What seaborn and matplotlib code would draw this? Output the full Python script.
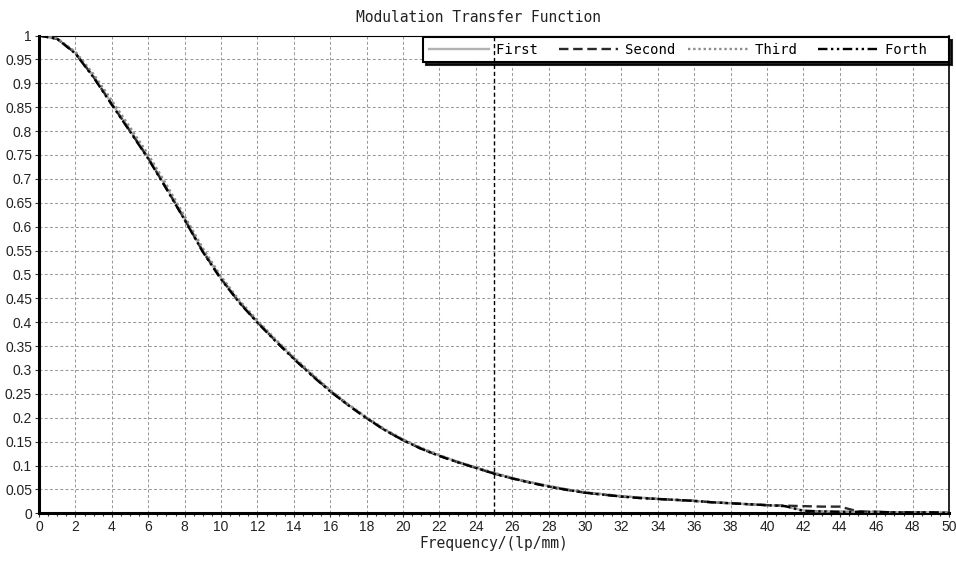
import matplotlib
matplotlib.use("Agg")
import matplotlib.pyplot as plt
from matplotlib.ticker import MultipleLocator, FormatStrFormatter, FuncFormatter
import seaborn as sns
import pandas as pd

# ---- data ----
freq = [0, 1, 2, 3, 4, 5, 6, 7, 8, 9, 10, 11, 12, 13, 14, 15, 16, 17, 18, 19, 20,
        21, 22, 23, 24, 25, 26, 27, 28, 29, 30, 31, 32, 33, 34, 35, 36, 37, 38, 39, 40,
        41, 42, 43, 44, 45, 46, 47, 48, 49, 50]

first = [1.000, 0.993, 0.964, 0.914, 0.858, 0.802, 0.745, 0.682, 0.617, 0.550, 0.492,
         0.443, 0.401, 0.362, 0.325, 0.290, 0.257, 0.227, 0.200, 0.175, 0.154,
         0.136, 0.121, 0.108, 0.096, 0.084, 0.074, 0.065, 0.057, 0.050, 0.044,
         0.040, 0.036, 0.033, 0.030, 0.028, 0.026, 0.023, 0.021, 0.019, 0.017,
         0.015, 0.006, 0.004, 0.004, 0.003, 0.003, 0.002, 0.002, 0.002, 0.001]

second = [1.000, 0.993, 0.963, 0.913, 0.856, 0.800, 0.743, 0.680, 0.615, 0.548, 0.491,
          0.442, 0.400, 0.361, 0.324, 0.289, 0.256, 0.226, 0.199, 0.174, 0.153,
          0.135, 0.120, 0.107, 0.095, 0.083, 0.073, 0.064, 0.056, 0.049, 0.043,
          0.039, 0.035, 0.032, 0.030, 0.028, 0.026, 0.023, 0.021, 0.019, 0.017,
          0.016, 0.015, 0.014, 0.014, 0.004, 0.003, 0.002, 0.002, 0.002, 0.001]

third = [1.000, 0.994, 0.966, 0.919, 0.864, 0.808, 0.751, 0.688, 0.622, 0.555, 0.496,
         0.446, 0.404, 0.364, 0.327, 0.292, 0.258, 0.228, 0.201, 0.176, 0.155,
         0.137, 0.122, 0.108, 0.096, 0.085, 0.074, 0.065, 0.057, 0.050, 0.044,
         0.040, 0.036, 0.033, 0.030, 0.028, 0.026, 0.023, 0.021, 0.019, 0.017,
         0.015, 0.005, 0.004, 0.003, 0.003, 0.003, 0.002, 0.002, 0.002, 0.001]

forth = [1.000, 0.993, 0.962, 0.912, 0.855, 0.799, 0.742, 0.679, 0.614, 0.547, 0.490,
         0.441, 0.399, 0.360, 0.323, 0.288, 0.255, 0.226, 0.199, 0.174, 0.153,
         0.135, 0.120, 0.107, 0.095, 0.083, 0.073, 0.064, 0.056, 0.049, 0.043,
         0.039, 0.035, 0.032, 0.030, 0.028, 0.026, 0.023, 0.021, 0.019, 0.017,
         0.015, 0.005, 0.004, 0.003, 0.003, 0.003, 0.002, 0.002, 0.002, 0.001]

series_names = ["First", "Second", "Third", "Forth"]
title_text = "Modulation Transfer Function"
xlabel_text = "Frequency/(lp/mm)"
cursor_x = 25

# ---- long-form table ----
rows = []
for name, vals in zip(series_names, [first, second, third, forth]):
    for f, v in zip(freq, vals):
        rows.append({"freq": f, "mtf": v, "series": name})
df = pd.DataFrame(rows)

palette = {"First": "#b2b2b2", "Second": "#2a2a2a", "Third": "#8c8c8c", "Forth": "#000000"}
dashes = {"First": "", "Second": (4, 2), "Third": (1, 1.2), "Forth": (4, 1.5, 1, 1.5, 1, 1.5)}

mono = "DejaVu Sans Mono"
sans = "Liberation Sans"

fig = plt.figure(figsize=(9.56, 5.61), dpi=100)
ax = fig.add_axes([39 / 956, 1 - 513.3 / 561, 910 / 956, 477.8 / 561])

sns.lineplot(data=df, x="freq", y="mtf", hue="series", style="series",
             palette=palette, dashes=dashes, hue_order=series_names,
             style_order=series_names, linewidth=1.7, ax=ax, legend=True,
             zorder=3)

ax.set_xlim(0, 50)
ax.set_ylim(0, 1)
ax.xaxis.set_major_locator(MultipleLocator(2))
ax.xaxis.set_minor_locator(MultipleLocator(0.5))
ax.yaxis.set_major_locator(MultipleLocator(0.05))


def yfmt(v, pos):
    s = "%.2f" % v
    s = s.rstrip("0").rstrip(".")
    return s


ax.yaxis.set_major_formatter(FuncFormatter(yfmt))
ax.xaxis.set_major_formatter(FormatStrFormatter("%d"))

ax.grid(True, which="major", color="#9a9a9a", linestyle=(0, (2.8, 2.2)), linewidth=0.75)
ax.set_axisbelow(True)

for lab in ax.get_xticklabels() + ax.get_yticklabels():
    lab.set_fontfamily(sans)
    lab.set_fontsize(10)
    lab.set_color("#222222")
ax.tick_params(axis="both", which="major", length=3, width=0.8, pad=2, color="#333333")
ax.tick_params(axis="x", which="minor", length=2, width=0.8, color="#333333")

ax.spines["left"].set_linewidth(2.2)
ax.spines["bottom"].set_linewidth(2.2)
ax.spines["right"].set_linewidth(1.2)
ax.spines["top"].set_linewidth(0.8)
for s in ax.spines.values():
    s.set_color("black")

ax.set_xlabel(xlabel_text, fontfamily=mono, fontsize=10.5, labelpad=1, color="#222222")
ax.set_ylabel("")
fig.text(478 / 956, 1 - 17 / 561, title_text, ha="center", va="center",
         fontfamily=mono, fontsize=10.5, color="#222222")

handles, labels = ax.get_legend_handles_labels()
hmap = dict(zip(labels, handles))
width = max(len(n) for n in series_names) + 1
leg_labels = [n.ljust(width) for n in series_names]
leg = ax.legend([hmap[n] for n in series_names], leg_labels,
                loc="upper right", bbox_to_anchor=(949 / 956, 1 - 37 / 561),
                bbox_transform=fig.transFigure, ncol=4,
                prop={"family": mono, "size": 10}, handlelength=4.3,
                handletextpad=0.5, columnspacing=0.32, borderpad=0.4,
                borderaxespad=0, fancybox=False, framealpha=1,
                edgecolor="black", shadow={"color": "black", "alpha": 0.85})
leg.get_frame().set_linewidth(1.5)
leg.set_zorder(5)

ax.axvline(cursor_x, color="black", linestyle=(0, (3, 2)), linewidth=1.0, zorder=6)

fig.savefig("out.png", dpi=100)
